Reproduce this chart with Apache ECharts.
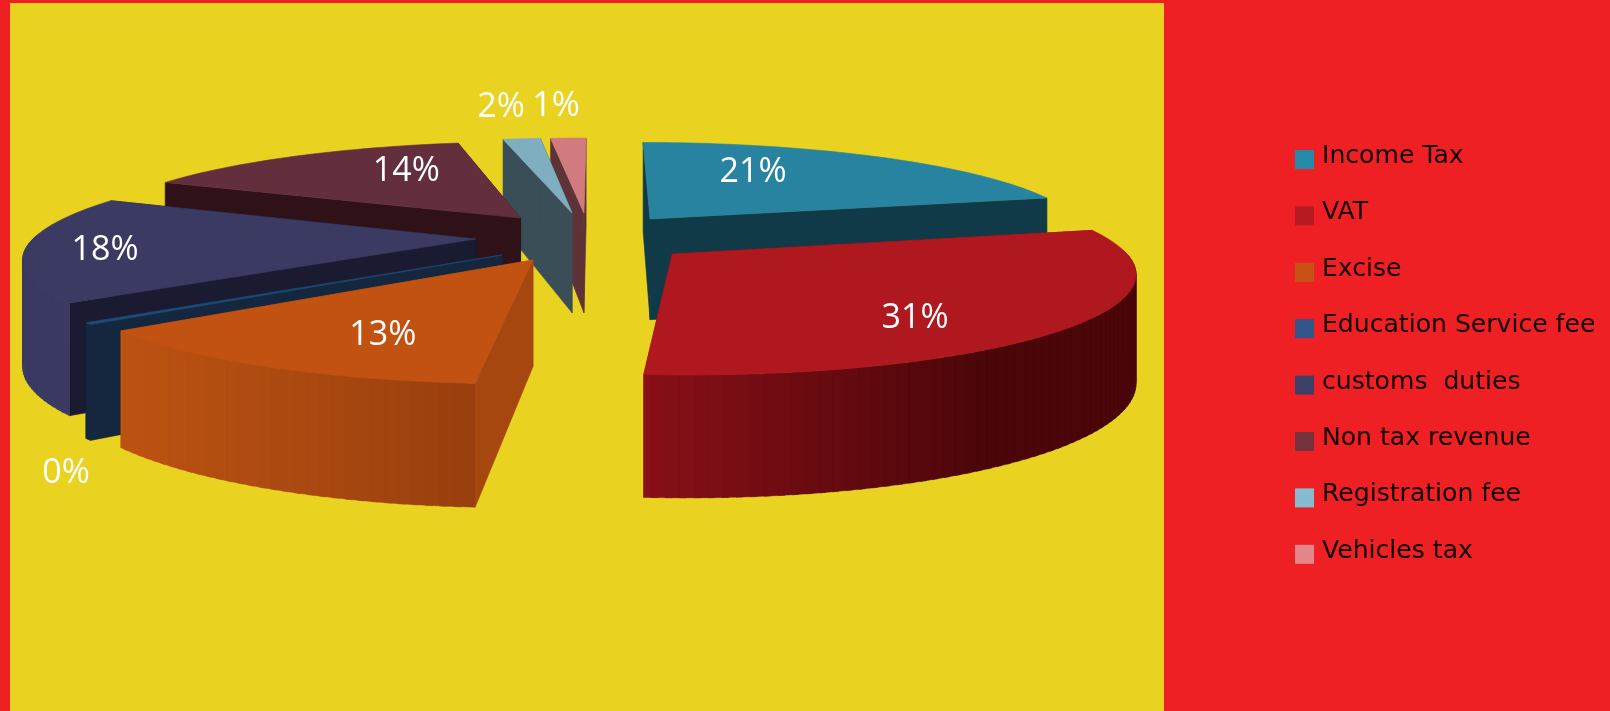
<!DOCTYPE html>
<html><head><meta charset="utf-8">
<style>html,body{margin:0;padding:0;background:#EE2024}#c{width:1610px;height:711px}</style>
<script src="https://cdn.jsdelivr.net/npm/echarts@6/dist/echarts.min.js"></script>
</head><body><div id="c"></div>
<script>
// ---- data ----
const categories = ['Income Tax','VAT','Excise','Education Service fee','customs  duties','Non tax revenue','Registration fee','Vehicles tax'];
const values = [21,31,13,0.3,18,14,2,1];
// ---- styles ----
const legendColors = ['#2589A8','#B81A22','#C85216','#32558A','#3C3F68','#73323E','#87BCD0','#E4868A'];
const topColors = ['#27839F','#B0181F','#C25211','#1F4A75','#3A3A62','#642F3C','#7FAEC0','#D17A80'];
const cutColors = ['#103A47','#8A1018','#A6470F','#15263F','#1A1B30','#2F1217','#3A4E57','#5D3338'];
const wallStart = ['#103A47','#8A1018','#BD5312','#15263F','#3A3A62','#2F1217','#3A4E57','#5D3338'];
const wallEnd = ['#103A47','#4A0609','#99400F','#15263F','#3A3A62','#2F1217','#3A4E57','#5D3338'];
const wallFade = [1,.72,1,1,1,1,1,1];
// ---- layout: explode offsets and label anchors in pie-plane units (radius = 1),
//      and the drawing's small angular skew at each slice's end boundary, in degrees ----
const explode = [[.117,-.175],[.159,.196],[-.146,.255],[-.215,.205],[-.28,.042],[-.186,-.186],[-.066,-.243],[-.038,-.243]];
const labelAt = [[.391,-.754],[.625,.771],[-.42,.905],[-.856,1.785],[-1.096,.155],[-.496,-.767],[-.29,-1.756],[-.129,-1.774]];
const boundarySkew = [.4,-2.1,-1.5,-1.5,-3.5,-.7,-2,0];
const drawOrder = [7,6,5,4,3,2,0,1];
// ---- camera ----
const cam = {cx:600, cy:235, a:440, d:94, p:.165, h:103, p2:.135};
function project(u,v,z){
  const s = 1/(1-cam.p*v);
  return [cam.cx+cam.a*u*s, cam.cy+cam.d*v*s+z*cam.h/(1-cam.p2*v)];
}
const total = values.reduce((a,b)=>a+b,0);
const angles = []; let acc = 0, prevEnd = 0;
values.forEach((v,i)=>{acc+=v; const e=(acc/total*360+boundarySkew[i])*Math.PI/180; angles.push([prevEnd,e]); prevEnd=e;});
function hex(c){return [1,3,5].map(i=>parseInt(c.substr(i,2),16));}
function mix(c1,c2,t){const a=hex(c1),b=hex(c2);return 'rgb('+a.map((x,i)=>Math.round(x+(b[i]-x)*t)).join(',')+')';}
function poly(points,fill,lw){return {type:'polygon',shape:{points},style:{fill,stroke:fill,lineWidth:lw===undefined?.6:lw}};}

function sliceRender(i){
  return function(){
    const [a0,a1] = angles[i], [eu,ev] = explode[i];
    const pt = (th,z)=>project(eu+Math.sin(th),ev-Math.cos(th),z);
    const apexT = project(eu,ev,0), apexB = project(eu,ev,1);
    const children = [];
    // cut faces
    [a0,a1].forEach(th=>children.push(poly([apexT,pt(th,0),pt(th,1),apexB],cutColors[i])));
    // outer wall, only the part that faces the viewer; shade follows screen x
    const step = Math.PI/180*1.5;
    const steps = Math.max(2,Math.ceil((a1-a0)/step));
    const lo=Math.max(a0,Math.PI/2), hi=Math.min(a1,Math.PI*1.5);
    const xL=Math.min(pt(lo,0)[0],pt(hi,0)[0]), xR=Math.max(pt(lo,0)[0],pt(hi,0)[0]);
    for(let k=steps-1;k>=0;k--){
      const t0=a0+(a1-a0)*k/steps, t1=a0+(a1-a0)*(k+1)/steps, tm=(t0+t1)/2;
      if(-Math.cos(tm) < -.03) continue;
      const t=Math.min(1,Math.max(0,(pt(tm,0)[0]-xL)/Math.max(1,xR-xL)/wallFade[i]));
      const c=mix(wallStart[i],wallEnd[i],t);
      const t2=Math.min(a1,t1+step*.5);
      children.push(poly([pt(t0,0),pt(t2,0),pt(t2,1),pt(t0,1)],c,.4));
    }
    // top face
    const top=[apexT];
    for(let k=0;k<=steps;k++) top.push(pt(a0+(a1-a0)*k/steps,0));
    children.push(poly(top,topColors[i]));
    return {type:'group',children};
  };
}
function labelRender(){
  return {type:'group',children:values.map((v,i)=>{
    const [x,y]=project(labelAt[i][0],labelAt[i][1],0);
    return {type:'text',style:{text:Math.round(v/total*100)+'%',x,y,fill:'#fff',font:'500 34px "Open Sans"',align:'center',verticalAlign:'middle'}};
  })};
}
const series = drawOrder.map(i=>({
  type:'custom', name:categories[i], coordinateSystem:'none', silent:true, clip:false,
  itemStyle:{color:legendColors[i]}, data:[[values[i]]], renderItem:sliceRender(i)
}));
series.push({type:'custom',name:'labels',coordinateSystem:'none',silent:true,data:[[0]],renderItem:labelRender,z:5});

const chart = echarts.init(document.getElementById('c'),null,{renderer:'canvas'});
chart.setOption({
  animation:false, backgroundColor:'#EE2024',
  graphic:[{type:'rect',shape:{x:10,y:3,width:1154,height:708},style:{fill:'#E9D320'},z:-1}],
  legend:{
    orient:'vertical', left:1295, top:144, padding:0, data:categories, icon:'rect',
    itemWidth:19, itemHeight:19, itemGap:25.4, selectedMode:false,
    formatter:n=>'{a|'+n+'}',
    textStyle:{color:'#120000',fontFamily:'DejaVu Sans',fontSize:25.1,
      rich:{a:{color:'#120000',fontFamily:'DejaVu Sans',fontSize:25.1,lineHeight:30,padding:[0,0,6,3]}}}
  },
  series
});
</script></body></html>
